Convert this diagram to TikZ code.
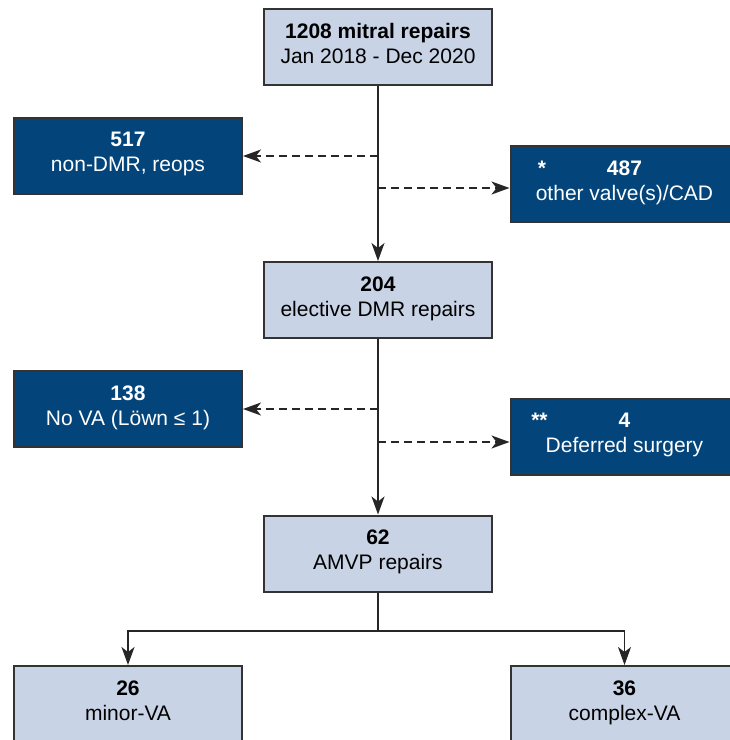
\documentclass[tikz,border=0pt]{standalone}
\usepackage{fontspec}
\setmainfont{Liberation Sans}
\usetikzlibrary{arrows.meta,positioning}

\definecolor{boxlight}{HTML}{C9D3E6}
\definecolor{boxdark}{HTML}{03457B}
\definecolor{edgegray}{HTML}{333333}

\tikzset{
  flowbox/.style={draw=edgegray,line width=2pt,minimum width=228,minimum height=76,inner sep=0pt,
    align=center,font=\fontsize{21}{25}\selectfont,execute at end node=\strut},
  lightbox/.style={flowbox,fill=boxlight,text=black},
  darkbox/.style={flowbox,fill=boxdark,text=white},
  flowline/.style={line width=1.5pt,draw=black!85,-{Stealth[length=18pt,width=13pt,inset=5pt]}},
  sideline/.style={flowline,dash pattern=on 8pt off 5pt}
}

\begin{document}
\begin{tikzpicture}[x=1pt,y=-1pt]
\useasboundingbox (0,0) rectangle (730,740);
\clip (0,0) rectangle (730,740);
% main column
\node[lightbox] (total) at (378,47) {\textbf{1208 mitral repairs}\\Jan 2018 - Dec 2020};
\node[lightbox] (elective) at (378,300) {\textbf{204}\\elective DMR repairs};
\node[lightbox] (amvp) at (378,553.5) {\textbf{62}\\AMVP repairs};
% excluded
\node[darkbox] (nondmr) at (128,156) {\textbf{517}\\non-DMR, reops};
\node[darkbox] (othervalve) at (624.5,184) {\llap{\textbf{*}\hspace{61pt}}\textbf{487}\\other valve(s)/CAD};
\node[darkbox] (nova) at (128,409) {\textbf{138}\\No VA (Löwn ≤ 1)};
\node[darkbox] (deferred) at (624.5,437) {\llap{\textbf{**}\hspace{71pt}}\textbf{4}\\Deferred surgery};
% groups
\node[lightbox] (minor) at (128,704) {\textbf{26}\\minor-VA};
\node[lightbox] (complex) at (624.5,704) {\textbf{36}\\complex-VA};

\coordinate (split1) at (378,156);
\coordinate (split2) at (378,188);
\coordinate (split3) at (378,409);
\coordinate (split4) at (378,442);
\coordinate (fork) at (378,631);

\draw[flowline] (total) -- (elective);
\draw[sideline] (split1) -- (nondmr.east |- split1);
\draw[sideline] (split2) -- (othervalve.west |- split2);
\draw[flowline] (elective) -- (amvp);
\draw[sideline] (split3) -- (nova.east |- split3);
\draw[sideline] (split4) -- (deferred.west |- split4);
\draw[line width=1.5pt,draw=black!85] (amvp) -- (fork);
\draw[flowline] (fork) -| (minor);
\draw[flowline] (fork) -| (complex);
\end{tikzpicture}
\end{document}
